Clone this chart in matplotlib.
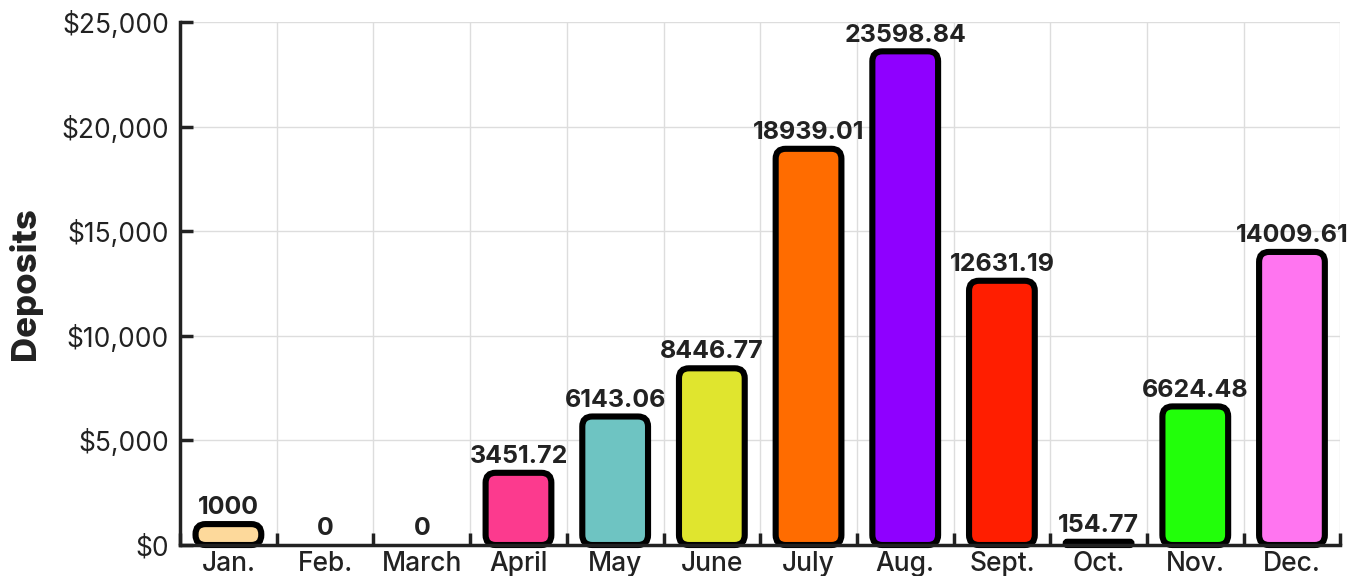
import matplotlib
matplotlib.use("Agg")
import matplotlib.pyplot as plt
from matplotlib.patches import FancyBboxPatch
from matplotlib.ticker import FuncFormatter

plt.rcParams['font.family'] = ['Inter', 'DejaVu Sans']

# Monthly deposits
months = ['Jan.', 'Feb.', 'March', 'April', 'May', 'June',
          'July', 'Aug.', 'Sept.', 'Oct.', 'Nov.', 'Dec.']
deposits = [1000, 0, 0, 3451.72, 6143.06, 8446.77,
            18939.01, 23598.84, 12631.19, 154.77, 6624.48, 14009.61]
labels = ['1000', '0', '0', '3451.72', '6143.06', '8446.77',
          '18939.01', '23598.84', '12631.19', '154.77', '6624.48', '14009.61']
colors = ['#FDD99B', '#FFFFFF', '#FFFFFF', '#FC3A8E', '#6EC4C2', '#E0E52E',
          '#FF6C00', '#8F00FF', '#FF1E00', '#9A9A9A', '#22FF0A', '#FF75F0']

text_col = '#222222'

fig = plt.figure(figsize=(13.57, 5.76), dpi=100)
ax = fig.add_axes([0.1327, 0.0538, 0.855, 0.908])
ax.set_xlim(-0.5, len(months) - 0.5)
ax.set_ylim(0, 25000)

# pixel scale of data units, used to keep the corner radius round
p0 = ax.transData.transform((0, 0))
p1 = ax.transData.transform((1, 1000))
px_x = p1[0] - p0[0]
px_y = (p1[1] - p0[1]) / 1000
aspect = px_x / px_y
radius_px = 10

bar_w = 0.68
for i, (v, c) in enumerate(zip(deposits, colors)):
    if v > 0:
        r = min(radius_px / px_x, v / aspect / 2)
        box = FancyBboxPatch((i - bar_w / 2, 0), bar_w, v,
                             boxstyle=f"round,pad=0,rounding_size={r}",
                             mutation_aspect=aspect,
                             facecolor=c, edgecolor='black', linewidth=4.4,
                             zorder=3, clip_on=False)
        ax.add_patch(box)
    ax.text(i, v + 230, labels[i], ha='center', va='bottom',
            fontsize=18, fontweight='bold', color=text_col, zorder=4)

# ticks: labels at centres, tick marks at boundaries
ax.set_xticks(range(len(months)))
ax.set_xticklabels(months, fontsize=19, color=text_col, fontweight='medium')
ax.set_xticks([i - 0.5 for i in range(len(months) + 1)], minor=True)
ax.tick_params(axis='x', which='major', length=0, pad=4)
ax.tick_params(axis='x', which='minor', direction='in', length=9, width=2.5,
               color=text_col)

ax.set_yticks(range(0, 25001, 5000))
ax.yaxis.set_major_formatter(FuncFormatter(lambda y, _: f"${y:,.0f}"))
ax.tick_params(axis='y', direction='in', length=9, width=2.5, color=text_col,
               labelsize=19, labelcolor=text_col, pad=8)

ax.grid(axis='y', which='major', color='#DDDDDD', linewidth=1, zorder=0)
ax.grid(axis='x', which='minor', color='#DDDDDD', linewidth=1, zorder=0)
ax.set_axisbelow(True)

for s in ['top', 'right']:
    ax.spines[s].set_visible(False)
for s in ['left', 'bottom']:
    ax.spines[s].set_linewidth(2.5)
    ax.spines[s].set_color(text_col)
    ax.spines[s].set_zorder(5)

ax.set_ylabel('Deposits', fontsize=25, fontweight='heavy', color=text_col,
              labelpad=14)

fig.savefig('out.png', dpi=100)
